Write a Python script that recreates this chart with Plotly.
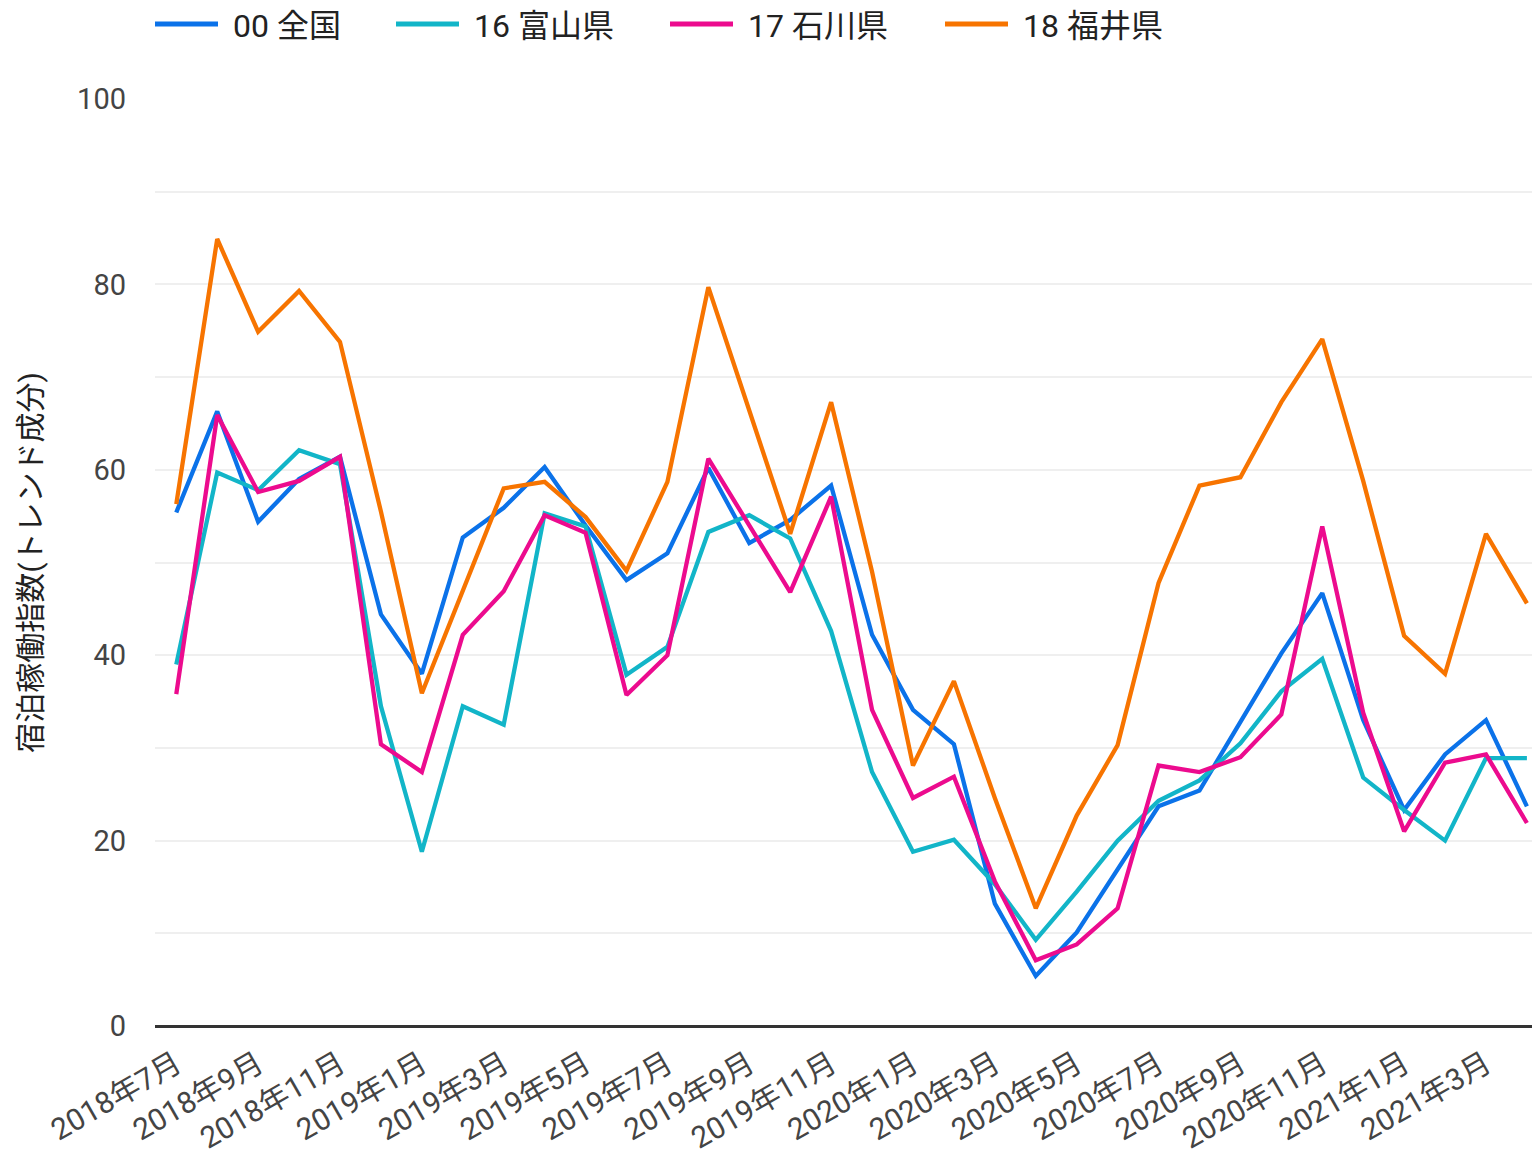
import plotly.graph_objects as go

months = ["2018年7月", "2018年8月", "2018年9月", "2018年10月", "2018年11月", "2018年12月",
          "2019年1月", "2019年2月", "2019年3月", "2019年4月", "2019年5月", "2019年6月",
          "2019年7月", "2019年8月", "2019年9月", "2019年10月", "2019年11月", "2019年12月",
          "2020年1月", "2020年2月", "2020年3月", "2020年4月", "2020年5月", "2020年6月",
          "2020年7月", "2020年8月", "2020年9月", "2020年10月", "2020年11月", "2020年12月",
          "2021年1月", "2021年2月", "2021年3月", "2021年4月"]

tick_labels = ["2018年7月", "2018年9月", "2018年11月", "2019年1月", "2019年3月", "2019年5月",
               "2019年7月", "2019年9月", "2019年11月", "2020年1月", "2020年3月", "2020年5月",
               "2020年7月", "2020年9月", "2020年11月", "2021年1月", "2021年3月"]

names = ["00 全国", "16 富山県", "17 石川県", "18 福井県"]

zenkoku = [55.4, 66.3, 54.4, 59.0, 61.4, 44.4, 38.0, 52.7, 55.9, 60.3, 54.0, 48.1,
           51.0, 60.2, 52.1, 54.6, 58.3, 42.2, 34.1, 30.4, 13.2, 5.4, 10.1, 16.8,
           23.7, 25.4, 32.8, 40.2, 46.7, 33.0, 23.3, 29.3, 33.0, 23.7]
toyama = [39.0, 59.7, 57.8, 62.1, 60.6, 34.5, 18.8, 34.5, 32.5, 55.3, 53.9, 37.9,
          40.9, 53.3, 55.1, 52.6, 42.6, 27.4, 18.8, 20.1, 15.3, 9.3, 14.5, 20.0,
          24.3, 26.5, 30.5, 36.1, 39.6, 26.8, 23.3, 20.0, 28.9, 28.9]
ishikawa = [35.8, 65.9, 57.6, 58.8, 61.4, 30.4, 27.4, 42.2, 46.9, 55.1, 53.2, 35.7,
            40.0, 61.2, 54.0, 46.8, 57.1, 34.1, 24.6, 26.9, 15.6, 7.1, 8.8, 12.7,
            28.1, 27.4, 29.0, 33.6, 53.9, 33.8, 21.0, 28.4, 29.3, 21.9]
fukui = [56.3, 84.9, 74.9, 79.3, 73.8, 55.5, 35.9, 47.0, 58.0, 58.7, 54.9, 49.1,
         58.7, 79.7, 66.4, 53.1, 67.3, 49.0, 28.1, 37.2, 24.6, 12.7, 22.7, 30.3,
         47.8, 58.3, 59.2, 67.3, 74.1, 58.8, 42.1, 38.0, 53.1, 45.6]

series = [zenkoku, toyama, ishikawa, fukui]
colors = ["#0b72e9", "#12b5c8", "#ec0b8e", "#f77400"]

y_ticks = [0, 20, 40, 60, 80, 100]
y_title = "宿泊稼働指数(トレンド成分)"

FONT = "Roboto, 'Noto Sans CJK JP', sans-serif"

fig = go.Figure()
for name, vals, col in zip(names, series, colors):
    fig.add_trace(go.Scatter(x=months, y=vals, name=name, mode="lines",
                             line=dict(color=col, width=4.3), showlegend=False))

# page has an 8px body margin: shift everything accordingly
OFF = 8
W, H = 1540 - OFF, 1156 - OFF
ml, mr, mt, mb = 155 - OFF, 0, 99 - OFF, 130
pw, ph = W - ml - mr, H - mt - mb

# manual legend (long line swatches), positions in page pixels
legend_x = [155, 396, 670, 945]
for lx, name, col in zip(legend_x, names, colors):
    x0 = (lx - OFF - ml) / pw
    x1 = (lx + 63 - OFF - ml) / pw
    yl = 1 + (mt - (24 - OFF)) / ph
    yt = 1 + (mt - (26 - OFF)) / ph
    fig.add_shape(type="line", xref="paper", yref="paper", x0=x0, x1=x1, y0=yl, y1=yl,
                  line=dict(color=col, width=5))
    fig.add_annotation(xref="paper", yref="paper", x=(lx + 77 - OFF - ml) / pw, y=yt,
                       text=name, showarrow=False, xanchor="left", yanchor="middle",
                       borderpad=0,
                       font=dict(size=32, color="#222222", family=FONT))

fig.update_layout(
    width=W, height=H,
    margin=dict(l=ml, r=mr, t=mt, b=mb),
    paper_bgcolor="white", plot_bgcolor="white",
    font=dict(family=FONT, color="#444444"),
    xaxis=dict(type="category", range=[-0.52, 33.32], tickmode="array",
               tickvals=tick_labels, ticktext=tick_labels, tickangle=-30,
               showgrid=False, zeroline=False, showline=False, ticks="",
               tickfont=dict(size=30, color="#444444"), ticklabelstandoff=14),
    yaxis=dict(range=[0, 100], tickmode="array", tickvals=y_ticks,
               showgrid=True, gridcolor="#efefef", gridwidth=1.5,
               minor=dict(dtick=10, showgrid=True, gridcolor="#efefef", gridwidth=1.5),
               zeroline=True, zerolinecolor="#333333", zerolinewidth=2.5,
               showline=False, ticks="", ticklabelstandoff=28,
               tickfont=dict(size=29, color="#444444"),
               title=dict(text=y_title, font=dict(size=30, color="#222222"), standoff=26)),
)

fig.write_html("out.html")
